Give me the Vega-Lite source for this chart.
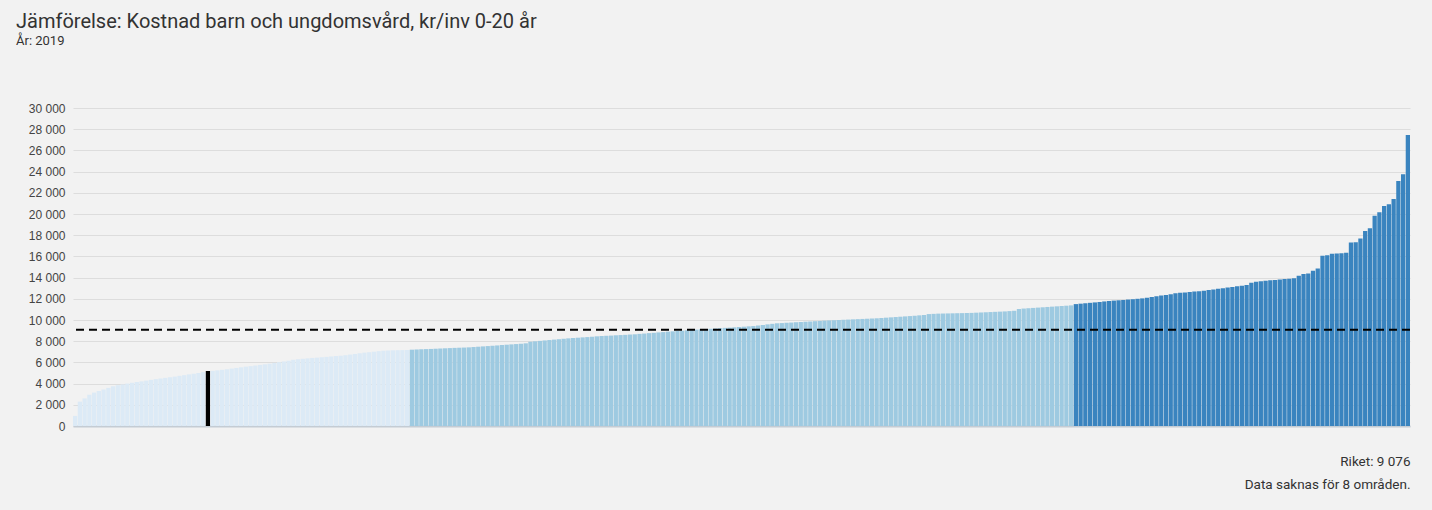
{
 "$schema": "https://vega.github.io/schema/vega-lite/v6.json",
 "width": 1337,
 "height": 318,
 "autosize": {"type": "none"},
 "padding": {"left": 73, "top": 108, "right": 22, "bottom": 84},
 "background": "#f2f2f2",
 "title": {
  "text": "Jämförelse: Kostnad barn och ungdomsvård, kr/inv 0-20 år",
  "subtitle": "År: 2019",
  "anchor": "start",
  "frame": "group",
  "dx": -57,
  "offset": 54,
  "font": "Roboto",
  "fontSize": 20,
  "fontWeight": "normal",
  "color": "#333333",
  "subtitleFont": "Roboto",
  "subtitleFontSize": 13,
  "subtitleColor": "#333333",
  "subtitlePadding": 3
 },
 "data": {"values": [
  {"rank":0,"v":950,"g":"low"},{"rank":1,"v":2300,"g":"low"},{"rank":2,"v":2600,"g":"low"},{"rank":3,"v":2950,"g":"low"},{"rank":4,"v":3150,"g":"low"},{"rank":5,"v":3300,"g":"low"},{"rank":6,"v":3450,"g":"low"},{"rank":7,"v":3600,"g":"low"},{"rank":8,"v":3750,"g":"low"},{"rank":9,"v":3850,"g":"low"},
  {"rank":10,"v":3920,"g":"low"},{"rank":11,"v":4000,"g":"low"},{"rank":12,"v":4080,"g":"low"},{"rank":13,"v":4150,"g":"low"},{"rank":14,"v":4210,"g":"low"},{"rank":15,"v":4280,"g":"low"},{"rank":16,"v":4350,"g":"low"},{"rank":17,"v":4420,"g":"low"},{"rank":18,"v":4480,"g":"low"},{"rank":19,"v":4540,"g":"low"},
  {"rank":20,"v":4600,"g":"low"},{"rank":21,"v":4660,"g":"low"},{"rank":22,"v":4730,"g":"low"},{"rank":23,"v":4800,"g":"low"},{"rank":24,"v":4870,"g":"low"},{"rank":25,"v":4930,"g":"low"},{"rank":26,"v":5000,"g":"low"},{"rank":27,"v":5080,"g":"low"},{"rank":28,"v":5190,"g":"sel"},{"rank":29,"v":5200,"g":"low"},
  {"rank":30,"v":5250,"g":"low"},{"rank":31,"v":5300,"g":"low"},{"rank":32,"v":5350,"g":"low"},{"rank":33,"v":5420,"g":"low"},{"rank":34,"v":5480,"g":"low"},{"rank":35,"v":5540,"g":"low"},{"rank":36,"v":5600,"g":"low"},{"rank":37,"v":5650,"g":"low"},{"rank":38,"v":5700,"g":"low"},{"rank":39,"v":5760,"g":"low"},
  {"rank":40,"v":5820,"g":"low"},{"rank":41,"v":5880,"g":"low"},{"rank":42,"v":5950,"g":"low"},{"rank":43,"v":6020,"g":"low"},{"rank":44,"v":6090,"g":"low"},{"rank":45,"v":6160,"g":"low"},{"rank":46,"v":6250,"g":"low"},{"rank":47,"v":6300,"g":"low"},{"rank":48,"v":6340,"g":"low"},{"rank":49,"v":6380,"g":"low"},
  {"rank":50,"v":6420,"g":"low"},{"rank":51,"v":6450,"g":"low"},{"rank":52,"v":6490,"g":"low"},{"rank":53,"v":6520,"g":"low"},{"rank":54,"v":6560,"g":"low"},{"rank":55,"v":6600,"g":"low"},{"rank":56,"v":6630,"g":"low"},{"rank":57,"v":6680,"g":"low"},{"rank":58,"v":6740,"g":"low"},{"rank":59,"v":6800,"g":"low"},
  {"rank":60,"v":6860,"g":"low"},{"rank":61,"v":6920,"g":"low"},{"rank":62,"v":6960,"g":"low"},{"rank":63,"v":7010,"g":"low"},{"rank":64,"v":7060,"g":"low"},{"rank":65,"v":7100,"g":"low"},{"rank":66,"v":7120,"g":"low"},{"rank":67,"v":7140,"g":"low"},{"rank":68,"v":7150,"g":"low"},{"rank":69,"v":7160,"g":"low"},
  {"rank":70,"v":7170,"g":"low"},
  {"rank":71,"v":7200,"g":"mid"},{"rank":72,"v":7220,"g":"mid"},{"rank":73,"v":7240,"g":"mid"},{"rank":74,"v":7255,"g":"mid"},{"rank":75,"v":7270,"g":"mid"},{"rank":76,"v":7290,"g":"mid"},{"rank":77,"v":7310,"g":"mid"},{"rank":78,"v":7330,"g":"mid"},{"rank":79,"v":7350,"g":"mid"},
  {"rank":80,"v":7370,"g":"mid"},{"rank":81,"v":7385,"g":"mid"},{"rank":82,"v":7400,"g":"mid"},{"rank":83,"v":7420,"g":"mid"},{"rank":84,"v":7450,"g":"mid"},{"rank":85,"v":7480,"g":"mid"},{"rank":86,"v":7510,"g":"mid"},{"rank":87,"v":7540,"g":"mid"},{"rank":88,"v":7570,"g":"mid"},{"rank":89,"v":7600,"g":"mid"},
  {"rank":90,"v":7640,"g":"mid"},{"rank":91,"v":7670,"g":"mid"},{"rank":92,"v":7700,"g":"mid"},{"rank":93,"v":7730,"g":"mid"},{"rank":94,"v":7760,"g":"mid"},{"rank":95,"v":7800,"g":"mid"},{"rank":96,"v":7950,"g":"mid"},{"rank":97,"v":7990,"g":"mid"},{"rank":98,"v":8030,"g":"mid"},{"rank":99,"v":8070,"g":"mid"},
  {"rank":100,"v":8110,"g":"mid"},{"rank":101,"v":8150,"g":"mid"},{"rank":102,"v":8190,"g":"mid"},{"rank":103,"v":8230,"g":"mid"},{"rank":104,"v":8270,"g":"mid"},{"rank":105,"v":8300,"g":"mid"},{"rank":106,"v":8330,"g":"mid"},{"rank":107,"v":8360,"g":"mid"},{"rank":108,"v":8390,"g":"mid"},{"rank":109,"v":8420,"g":"mid"},
  {"rank":110,"v":8460,"g":"mid"},{"rank":111,"v":8490,"g":"mid"},{"rank":112,"v":8510,"g":"mid"},{"rank":113,"v":8530,"g":"mid"},{"rank":114,"v":8560,"g":"mid"},{"rank":115,"v":8580,"g":"mid"},{"rank":116,"v":8600,"g":"mid"},{"rank":117,"v":8630,"g":"mid"},{"rank":118,"v":8650,"g":"mid"},{"rank":119,"v":8690,"g":"mid"},
  {"rank":120,"v":8720,"g":"mid"},{"rank":121,"v":8760,"g":"mid"},{"rank":122,"v":8790,"g":"mid"},{"rank":123,"v":8830,"g":"mid"},{"rank":124,"v":8860,"g":"mid"},{"rank":125,"v":8900,"g":"mid"},{"rank":126,"v":8930,"g":"mid"},{"rank":127,"v":8960,"g":"mid"},{"rank":128,"v":8990,"g":"mid"},{"rank":129,"v":9030,"g":"mid"},
  {"rank":130,"v":9060,"g":"mid"},{"rank":131,"v":9090,"g":"mid"},{"rank":132,"v":9120,"g":"mid"},{"rank":133,"v":9150,"g":"mid"},{"rank":134,"v":9170,"g":"mid"},{"rank":135,"v":9200,"g":"mid"},{"rank":136,"v":9230,"g":"mid"},{"rank":137,"v":9260,"g":"mid"},{"rank":138,"v":9280,"g":"mid"},{"rank":139,"v":9310,"g":"mid"},
  {"rank":140,"v":9340,"g":"mid"},{"rank":141,"v":9370,"g":"mid"},{"rank":142,"v":9400,"g":"mid"},{"rank":143,"v":9430,"g":"mid"},{"rank":144,"v":9480,"g":"mid"},{"rank":145,"v":9530,"g":"mid"},{"rank":146,"v":9590,"g":"mid"},{"rank":147,"v":9640,"g":"mid"},{"rank":148,"v":9690,"g":"mid"},{"rank":149,"v":9710,"g":"mid"},
  {"rank":150,"v":9740,"g":"mid"},{"rank":151,"v":9760,"g":"mid"},{"rank":152,"v":9790,"g":"mid"},{"rank":153,"v":9810,"g":"mid"},{"rank":154,"v":9840,"g":"mid"},{"rank":155,"v":9860,"g":"mid"},{"rank":156,"v":9890,"g":"mid"},{"rank":157,"v":9910,"g":"mid"},{"rank":158,"v":9940,"g":"mid"},{"rank":159,"v":9960,"g":"mid"},
  {"rank":160,"v":9980,"g":"mid"},{"rank":161,"v":10000,"g":"mid"},{"rank":162,"v":10020,"g":"mid"},{"rank":163,"v":10040,"g":"mid"},{"rank":164,"v":10060,"g":"mid"},{"rank":165,"v":10080,"g":"mid"},{"rank":166,"v":10100,"g":"mid"},{"rank":167,"v":10120,"g":"mid"},{"rank":168,"v":10140,"g":"mid"},{"rank":169,"v":10160,"g":"mid"},
  {"rank":170,"v":10190,"g":"mid"},{"rank":171,"v":10220,"g":"mid"},{"rank":172,"v":10250,"g":"mid"},{"rank":173,"v":10280,"g":"mid"},{"rank":174,"v":10310,"g":"mid"},{"rank":175,"v":10340,"g":"mid"},{"rank":176,"v":10370,"g":"mid"},{"rank":177,"v":10400,"g":"mid"},{"rank":178,"v":10440,"g":"mid"},{"rank":179,"v":10470,"g":"mid"},
  {"rank":180,"v":10560,"g":"mid"},{"rank":181,"v":10580,"g":"mid"},{"rank":182,"v":10600,"g":"mid"},{"rank":183,"v":10610,"g":"mid"},{"rank":184,"v":10620,"g":"mid"},{"rank":185,"v":10630,"g":"mid"},{"rank":186,"v":10640,"g":"mid"},{"rank":187,"v":10650,"g":"mid"},{"rank":188,"v":10660,"g":"mid"},{"rank":189,"v":10670,"g":"mid"},
  {"rank":190,"v":10690,"g":"mid"},{"rank":191,"v":10710,"g":"mid"},{"rank":192,"v":10730,"g":"mid"},{"rank":193,"v":10750,"g":"mid"},{"rank":194,"v":10770,"g":"mid"},{"rank":195,"v":10790,"g":"mid"},{"rank":196,"v":10810,"g":"mid"},{"rank":197,"v":10840,"g":"mid"},{"rank":198,"v":10870,"g":"mid"},{"rank":199,"v":11040,"g":"mid"},
  {"rank":200,"v":11080,"g":"mid"},{"rank":201,"v":11110,"g":"mid"},{"rank":202,"v":11140,"g":"mid"},{"rank":203,"v":11170,"g":"mid"},{"rank":204,"v":11200,"g":"mid"},{"rank":205,"v":11230,"g":"mid"},{"rank":206,"v":11260,"g":"mid"},{"rank":207,"v":11290,"g":"mid"},{"rank":208,"v":11320,"g":"mid"},{"rank":209,"v":11350,"g":"mid"},
  {"rank":210,"v":11380,"g":"mid"},
  {"rank":211,"v":11500,"g":"high"},{"rank":212,"v":11540,"g":"high"},{"rank":213,"v":11580,"g":"high"},{"rank":214,"v":11620,"g":"high"},{"rank":215,"v":11660,"g":"high"},{"rank":216,"v":11700,"g":"high"},{"rank":217,"v":11750,"g":"high"},{"rank":218,"v":11790,"g":"high"},{"rank":219,"v":11830,"g":"high"},
  {"rank":220,"v":11860,"g":"high"},{"rank":221,"v":11890,"g":"high"},{"rank":222,"v":11930,"g":"high"},{"rank":223,"v":11960,"g":"high"},{"rank":224,"v":12000,"g":"high"},{"rank":225,"v":12040,"g":"high"},{"rank":226,"v":12100,"g":"high"},{"rank":227,"v":12170,"g":"high"},{"rank":228,"v":12240,"g":"high"},{"rank":229,"v":12300,"g":"high"},
  {"rank":230,"v":12360,"g":"high"},{"rank":231,"v":12440,"g":"high"},{"rank":232,"v":12520,"g":"high"},{"rank":233,"v":12560,"g":"high"},{"rank":234,"v":12600,"g":"high"},{"rank":235,"v":12640,"g":"high"},{"rank":236,"v":12680,"g":"high"},{"rank":237,"v":12720,"g":"high"},{"rank":238,"v":12770,"g":"high"},{"rank":239,"v":12820,"g":"high"},
  {"rank":240,"v":12880,"g":"high"},{"rank":241,"v":12940,"g":"high"},{"rank":242,"v":12990,"g":"high"},{"rank":243,"v":13060,"g":"high"},{"rank":244,"v":13120,"g":"high"},{"rank":245,"v":13180,"g":"high"},{"rank":246,"v":13240,"g":"high"},{"rank":247,"v":13300,"g":"high"},{"rank":248,"v":13520,"g":"high"},{"rank":249,"v":13600,"g":"high"},
  {"rank":250,"v":13650,"g":"high"},{"rank":251,"v":13700,"g":"high"},{"rank":252,"v":13740,"g":"high"},{"rank":253,"v":13780,"g":"high"},{"rank":254,"v":13820,"g":"high"},{"rank":255,"v":13860,"g":"high"},{"rank":256,"v":13900,"g":"high"},{"rank":257,"v":13950,"g":"high"},{"rank":258,"v":14180,"g":"high"},{"rank":259,"v":14340,"g":"high"},
  {"rank":260,"v":14380,"g":"high"},{"rank":261,"v":14650,"g":"high"},{"rank":262,"v":14870,"g":"high"},{"rank":263,"v":16070,"g":"high"},{"rank":264,"v":16100,"g":"high"},{"rank":265,"v":16250,"g":"high"},{"rank":266,"v":16280,"g":"high"},{"rank":267,"v":16300,"g":"high"},{"rank":268,"v":16350,"g":"high"},{"rank":269,"v":17300,"g":"high"},
  {"rank":270,"v":17330,"g":"high"},{"rank":271,"v":17700,"g":"high"},{"rank":272,"v":18400,"g":"high"},{"rank":273,"v":18650,"g":"high"},{"rank":274,"v":19840,"g":"high"},{"rank":275,"v":20160,"g":"high"},{"rank":276,"v":20750,"g":"high"},{"rank":277,"v":20910,"g":"high"},{"rank":278,"v":21420,"g":"high"},{"rank":279,"v":23110,"g":"high"},
  {"rank":280,"v":23740,"g":"high"},{"rank":281,"v":27450,"g":"high"}
 ]},
 "layer": [
  {
   "mark": {"type": "bar"},
   "encoding": {
    "x": {
     "field": "rank", "type": "ordinal", "sort": null,
     "scale": {"paddingInner": 0.1, "paddingOuter": 0},
     "axis": {
      "labels": false, "ticks": false, "domain": true,
      "domainColor": "#c4ccd4", "domainWidth": 2,
      "title": ["Riket: 9 076", "Data saknas för 8 områden."],
      "titleAnchor": "end", "titleAlign": "right",
      "titleFont": "Roboto", "titleFontSize": 13.5, "titleFontWeight": "normal",
      "titleColor": "#333333", "titleLineHeight": 23, "titlePadding": 28, "titleBaseline": "top"
     }
    },
    "y": {
     "field": "v", "type": "quantitative",
     "scale": {"domain": [0, 30000], "nice": false},
     "axis": {
      "title": null, "tickCount": 16,
      "values": [0,2000,4000,6000,8000,10000,12000,14000,16000,18000,20000,22000,24000,26000,28000,30000],
      "labelExpr": "replace(format(datum.value, ','), ',', ' ')",
      "labelOverlap": false, "labelBound": false, "labelFlush": false,
      "domain": false, "ticks": false, "labelPadding": 8,
      "labelFont": "Liberation Sans", "labelFontSize": 12, "labelColor": "#444444",
      "gridColor": "#dddddd", "gridWidth": 1
     }
    },
    "color": {
     "field": "g", "type": "nominal",
     "scale": {"domain": ["low", "mid", "high", "sel"], "range": ["#dceaf6", "#9ecae1", "#3a84bf", "#000000"]},
     "legend": null
    }
   }
  },
  {
   "data": {"values": [{"riket": 9076}]},
   "mark": {"type": "rule", "color": "#000000", "strokeWidth": 2, "strokeDash": [8, 5]},
   "encoding": {
    "y": {
     "field": "riket", "type": "quantitative",
     "axis": {
      "title": null, "tickCount": 16,
      "values": [0,2000,4000,6000,8000,10000,12000,14000,16000,18000,20000,22000,24000,26000,28000,30000],
      "labelExpr": "replace(format(datum.value, ','), ',', ' ')",
      "labelOverlap": false, "labelBound": false, "labelFlush": false,
      "domain": false, "ticks": false, "labelPadding": 8,
      "labelFont": "Liberation Sans", "labelFontSize": 12, "labelColor": "#444444",
      "gridColor": "#dddddd", "gridWidth": 1
     }
    }
   }
  }
 ],
 "config": {"view": {"stroke": null}}
}
